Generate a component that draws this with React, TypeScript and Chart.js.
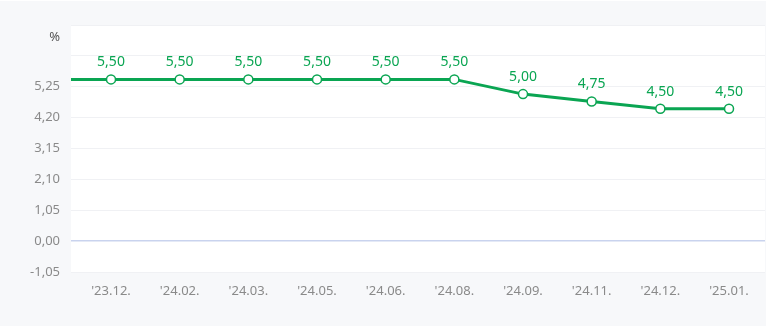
import React, { useEffect, useRef } from "react";
import { Chart, registerables } from "chart.js";

Chart.register(...registerables);

// First category is the earlier (off-screen) point the line comes in from.
const categories = ["'23.11.", "'23.12.", "'24.02.", "'24.03.", "'24.05.", "'24.06.", "'24.08.", "'24.09.", "'24.11.", "'24.12.", "'25.01."];
const rates = [5.5, 5.5, 5.5, 5.5, 5.5, 5.5, 5.5, 5.0, 4.75, 4.5, 4.5];
const yTicks = [-1.05, 0, 1.05, 2.1, 3.15, 4.2, 5.25, 6.3, 7.35];
const yLabelMax = 5.25;
const unitLabel = "%";

const GREEN = "#0aa552";
const FONT = "'Noto Sans', sans-serif";

const fmt = (v: number) => v.toFixed(2).replace(".", ",");

export default function App() {
  const ref = useRef<HTMLCanvasElement | null>(null);

  useEffect(() => {
    const canvas = ref.current;
    if (!canvas) return;

    const bgPlugin = {
      id: "bg",
      beforeDraw(chart: any) {
        const { ctx, chartArea, width, height } = chart;
        ctx.save();
        ctx.fillStyle = "#f7f8fa";
        ctx.fillRect(0, 0, width, height);
        ctx.fillStyle = "#ffffff";
        ctx.fillRect(0, 0, width, 1);
        ctx.fillRect(chartArea.left, chartArea.top, chartArea.right - chartArea.left, chartArea.bottom - chartArea.top);
        ctx.restore();
      },
      afterDatasetsDraw(chart: any) {
        const { ctx, chartArea } = chart;
        const meta = chart.getDatasetMeta(0);
        ctx.save();
        ctx.font = `14px ${FONT}`;
        ctx.fillStyle = GREEN;
        ctx.textAlign = "center";
        ctx.textBaseline = "alphabetic";
        meta.data.forEach((pt: any, i: number) => {
          if (pt.x < chartArea.left || pt.x > chartArea.right) return;
          ctx.fillText(fmt(rates[i]), pt.x, pt.y - 13);
        });
        ctx.font = `13px ${FONT}`;
        ctx.fillStyle = "#555";
        ctx.textAlign = "right";
        ctx.fillText(unitLabel, chartArea.left - 11, chartArea.top + 16);
        ctx.restore();
      },
    };

    const chart = new Chart(canvas, {
      type: "line",
      data: {
        datasets: [
          {
            data: rates.map((v, i) => ({ x: i, y: v })),
            borderColor: GREEN,
            borderWidth: 3,
            pointRadius: 4.5,
            pointBorderWidth: 1.5,
            pointBackgroundColor: "#ffffff",
            pointBorderColor: GREEN,
            tension: 0,
            clip: 0 as any,
          },
        ],
      },
      options: {
        animation: false,
        responsive: false,
        maintainAspectRatio: false,
        layout: { autoPadding: false, padding: { top: 25, right: 1, left: 0, bottom: 0 } },
        plugins: { legend: { display: false }, tooltip: { enabled: false } },
        scales: {
          x: {
            type: "linear",
            min: 0.4175,
            max: 10.524,
            afterBuildTicks: (axis: any) => {
              axis.ticks = categories.map((_, i) => ({ value: i })).slice(1);
            },
            afterFit: (s: any) => {
              s.height = 54;
              s.paddingLeft = 0;
              s.paddingRight = 0;
            },
            grid: { display: false, drawTicks: false },
            border: { display: false },
            ticks: {
              autoSkip: false,
              maxRotation: 0,
              padding: 11,
              color: "#8a8a8a",
              font: { family: FONT, size: 13 },
              callback: (v: any) => categories[Math.round(Number(v))] ?? "",
            },
          },
          y: {
            min: -1.05,
            max: 7.35,
            afterBuildTicks: (axis: any) => {
              axis.ticks = yTicks.map((v) => ({ value: v }));
            },
            afterFit: (s: any) => {
              s.width = 71;
            },
            grid: {
              drawTicks: false,
              color: (c: any) => (c.tick && Math.abs(c.tick.value) < 1e-9 ? "#c9d3ee" : "#f0f1f4"),
              lineWidth: (c: any) => (c.tick && Math.abs(c.tick.value) < 1e-9 ? 1.5 : 1),
            },
            border: { display: false },
            ticks: {
              padding: 11,
              color: "#8a8a8a",
              font: { family: FONT, size: 13 },
              callback: (v: any) => (Number(v) > yLabelMax + 1e-9 ? "" : fmt(Number(v))),
            },
          },
        },
      },
      plugins: [bgPlugin],
    } as any);

    return () => chart.destroy();
  }, []);

  return (
    <div style={{ position: "fixed", left: 0, top: 0, width: 766, height: 326 }}>
      <canvas ref={ref} width={766} height={326} style={{ width: 766, height: 326, display: "block" }} />
    </div>
  );
}
